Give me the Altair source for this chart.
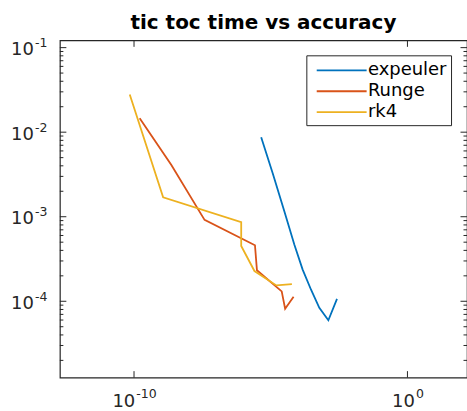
import altair as alt
import pandas as pd

# tic/toc run time (x) against error (y) for each solver
expeuler_time = [4.47e-6, 1.18e-5, 3.16e-5, 7.33e-5, 1.47e-4, 2.98e-4, 5.98e-4, 1.28e-3, 2.65e-3]
expeuler_err = [8.69e-3, 3.27e-3, 1.15e-3, 4.67e-4, 2.37e-4, 1.37e-4, 8.36e-5, 5.97e-5, 1.07e-4]
runge_time = [1.61e-10, 2.32e-9, 3.80e-8, 2.65e-6, 3.13e-6, 2.52e-5, 3.36e-5, 6.85e-5]
runge_err = [1.46e-2, 4.09e-3, 9.18e-4, 4.60e-4, 2.33e-4, 1.31e-4, 8.17e-5, 1.13e-4]
rk4_time = [6.97e-11, 1.16e-9, 8.32e-7, 8.32e-7, 2.54e-6, 1.61e-5, 5.94e-5]
rk4_err = [2.79e-2, 1.70e-3, 8.63e-4, 4.51e-4, 2.28e-4, 1.54e-4, 1.60e-4]

series = ["expeuler", "Runge", "rk4"]
colors = ["#0072BD", "#D95319", "#EDB120"]

# axis ticks: value and the exponent printed after "10"
x_major = [1e-10, 1e0]
x_exp = ["-10", "0"]
y_major = [1e-1, 1e-2, 1e-3, 1e-4]
y_exp = ["-1", "-2", "-3", "-4"]

x_domain = [10 ** -12.712, 10 ** 2.178]
y_domain = [10 ** -4.903, 10 ** -0.914]

W, H = 408, 338
AX = "#262626"
FONT = "DejaVu Sans"


def frame(times, errs, name):
    return pd.DataFrame({"time": times, "err": errs, "solver": name,
                         "step": list(range(len(times)))})


df = pd.concat([frame(expeuler_time, expeuler_err, "expeuler"),
                frame(runge_time, runge_err, "Runge"),
                frame(rk4_time, rk4_err, "rk4")], ignore_index=True)

xs = alt.Scale(type="log", domain=x_domain, nice=False)
ys = alt.Scale(type="log", domain=y_domain, nice=False)

lines = alt.Chart(df).mark_line(strokeWidth=1.8, clip=True).encode(
    x=alt.X("time:Q", scale=xs, axis=None),
    y=alt.Y("err:Q", scale=ys, axis=None),
    color=alt.Color(
        "solver:N",
        scale=alt.Scale(domain=series, range=colors),
        legend=alt.Legend(
            title=None, orient="none", legendX=247, legendY=15,
            symbolType="M-2.5,0H2.5", symbolSize=400, symbolStrokeWidth=1.8,
            symbolOffset=20.4, labelOffset=15.3,
            labelFont=FONT, labelFontSize=18, labelColor="#000",
            rowPadding=1.0, padding=4,
            strokeColor=AX, fillColor="white",
        ),
    ),
    order="step:Q",
)

# minor ticks on the log y axis: 2..9 times each power of ten
y_minor = [m * 10.0 ** k for k in range(-5, 0) for m in range(2, 10)
           if y_domain[0] <= m * 10.0 ** k <= y_domain[1]]


def ytick_rules(vals, length):
    d = pd.DataFrame({"v": vals})
    base = alt.Chart(d).mark_rule(color=AX, strokeWidth=1)
    left = base.encode(y=alt.Y("v:Q", scale=ys, axis=None),
                       x=alt.value(0), x2=alt.value(length))
    right = base.encode(y=alt.Y("v:Q", scale=ys, axis=None),
                        x=alt.value(W), x2=alt.value(W - length))
    return left + right


def xtick_rules(vals, length):
    d = pd.DataFrame({"v": vals})
    base = alt.Chart(d).mark_rule(color=AX, strokeWidth=1)
    bottom = base.encode(x=alt.X("v:Q", scale=xs, axis=None),
                         y=alt.value(H), y2=alt.value(H - length))
    top = base.encode(x=alt.X("v:Q", scale=xs, axis=None),
                      y=alt.value(0), y2=alt.value(length))
    return bottom + top


# y tick labels: "10" with a raised exponent
ylab = pd.DataFrame({"v": y_major, "e": y_exp, "b": "10"})
ybase = alt.Chart(ylab).mark_text(font=FONT, fontSize=18, align="right",
                                  baseline="alphabetic", dy=7.7, color=AX).encode(
    y=alt.Y("v:Q", scale=ys, axis=None), x=alt.value(-26), text="b:N")
ysup = alt.Chart(ylab).mark_text(font=FONT, fontSize=12.5, align="left",
                                 baseline="alphabetic", dy=-0.6, color=AX).encode(
    y=alt.Y("v:Q", scale=ys, axis=None), x=alt.value(-25), text="e:N")

# x tick labels, each centred under its tick
xlabels = []
for v, e in zip(x_major, x_exp):
    w_exp = sum(0.361 if c == "-" else 0.636 for c in e) * 12.5
    shift = (2 * 0.636 * 18 - w_exp) / 2
    d = pd.DataFrame({"v": [v], "e": [e], "b": ["10"]})
    xlabels.append(alt.Chart(d).mark_text(
        font=FONT, fontSize=18, align="right", baseline="alphabetic",
        dx=shift, dy=29.8, color=AX).encode(
        x=alt.X("v:Q", scale=xs, axis=None), y=alt.value(H), text="b:N"))
    xlabels.append(alt.Chart(d).mark_text(
        font=FONT, fontSize=12.5, align="left", baseline="alphabetic",
        dx=shift + 1, dy=20.8, color=AX).encode(
        x=alt.X("v:Q", scale=xs, axis=None), y=alt.value(H), text="e:N"))

chart = alt.layer(
    lines,
    ytick_rules(y_major, 6.5), ytick_rules(y_minor, 3.5),
    xtick_rules(x_major, 6.5),
    ybase, ysup, *xlabels,
).properties(
    width=W, height=H,
    title=alt.Title("tic toc time vs accuracy", font=FONT, fontSize=20,
                    fontWeight="bold", color="#000", anchor="middle", offset=4),
    autosize=alt.AutoSizeParams(type="none"),
    padding={"left": 60, "top": 40, "right": 0, "bottom": 33},
    background="white",
).configure_view(stroke=AX, strokeWidth=1.2)

chart.save("out.html", embed_options={"renderer": "svg", "actions": False})
